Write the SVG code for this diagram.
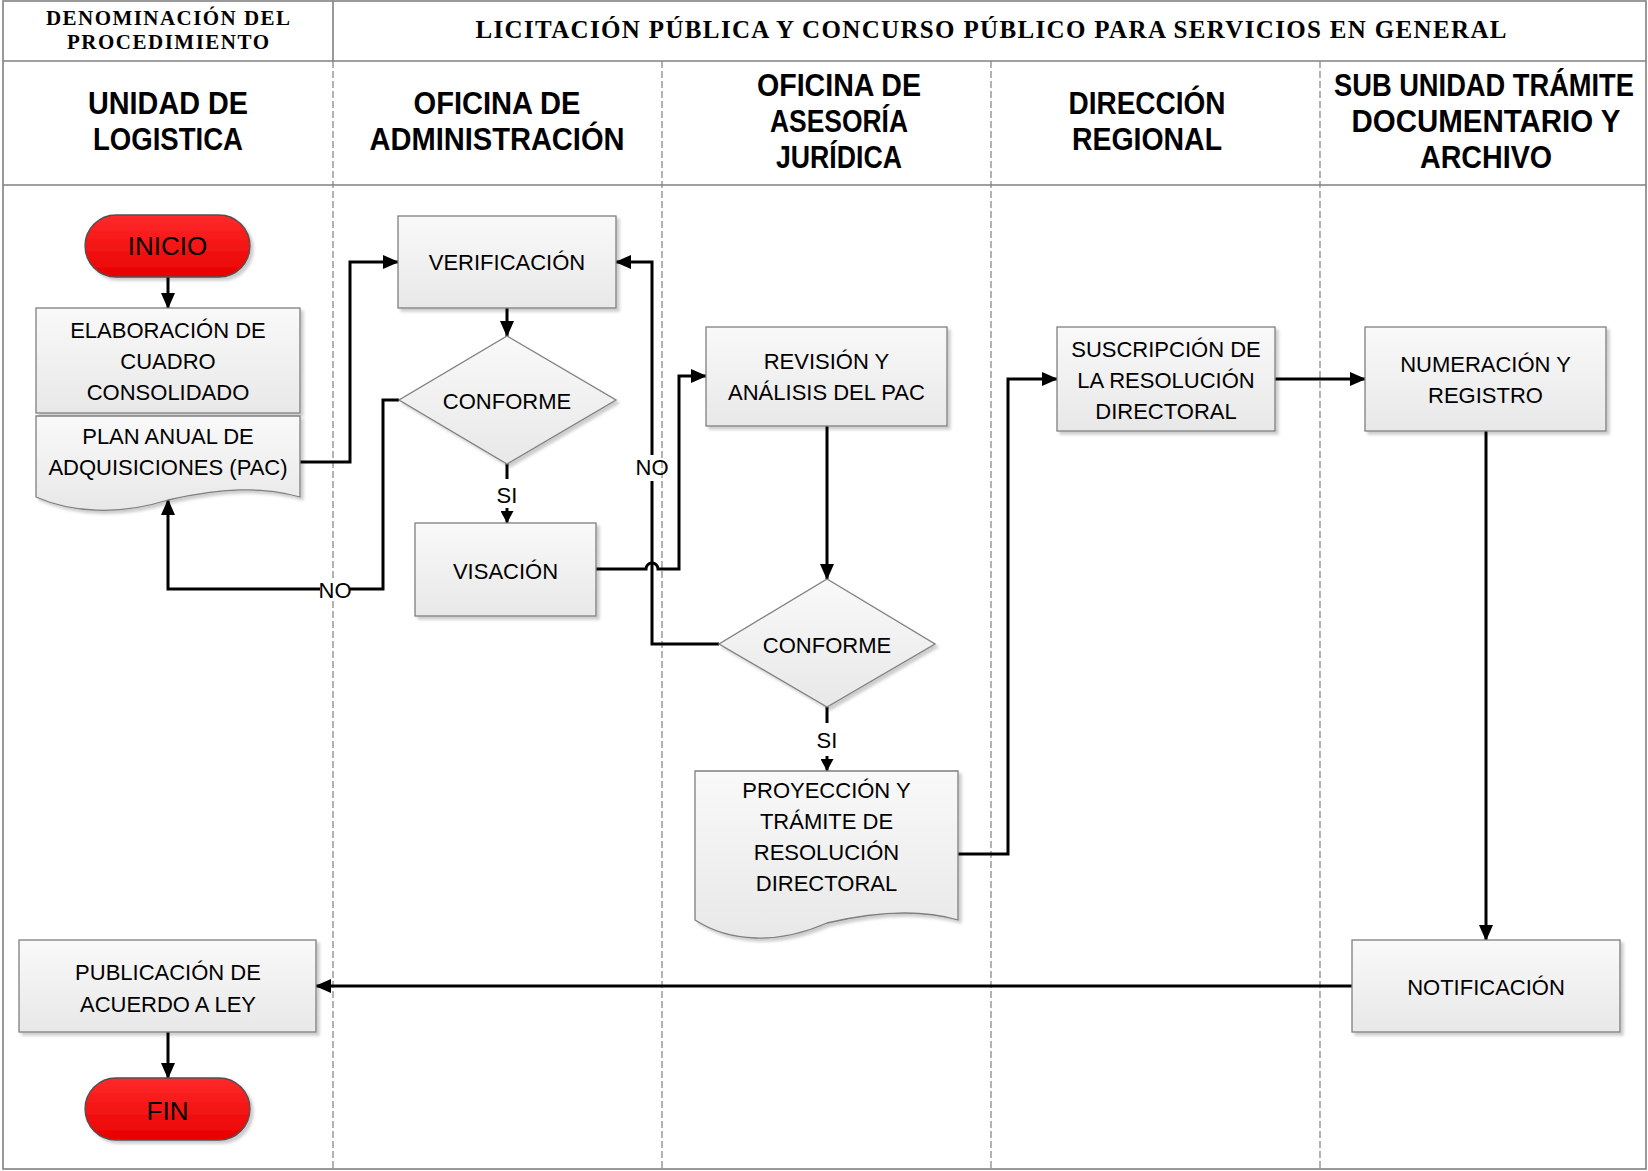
<svg xmlns="http://www.w3.org/2000/svg" width="1648" height="1171" viewBox="0 0 1648 1171">
<style>
.box{fill:url(#gb);stroke:#7f7f7f;stroke-width:1.3;filter:url(#sh)}
.term{fill:url(#gr);stroke:#505050;stroke-width:1.3;filter:url(#sh)}
.t{font-family:"Liberation Sans",Arial,sans-serif;font-size:22px;fill:#000;text-anchor:middle}
.tt{font-size:26px}
.lane{font-family:"Liberation Sans",Arial,sans-serif;font-weight:bold;font-size:31px;text-anchor:middle;fill:#000}
.hd{font-family:"Liberation Serif","Times New Roman",serif;font-weight:bold;text-anchor:middle;fill:#000}
.con{fill:none;stroke:#000;stroke-width:3}
.grid{stroke:#808080;stroke-width:1.6;fill:none}
.dash{stroke:#808080;stroke-width:1.2;stroke-dasharray:7 3;fill:none}
.bg{fill:#fff}
</style>
<defs>
<linearGradient id="gb" x1="0" y1="0" x2="0" y2="1"><stop offset="0" stop-color="#f9f9f9"/><stop offset="1" stop-color="#e8e8e8"/></linearGradient>
<linearGradient id="gr" x1="0" y1="0" x2="0" y2="1"><stop offset="0" stop-color="#ff2a2a"/><stop offset="1" stop-color="#e80000"/></linearGradient>
<filter id="sh" x="-5%" y="-5%" width="115%" height="125%"><feDropShadow dx="3" dy="3" stdDeviation="1.5" flood-color="#000" flood-opacity="0.2"/></filter>
<marker id="ah" viewBox="0 0 16 14" refX="15" refY="7" markerWidth="16" markerHeight="14" markerUnits="userSpaceOnUse" orient="auto"><path d="M0,0 L16,7 L0,14 z" fill="#000"/></marker>
<marker id="as" viewBox="0 0 12 13" refX="12" refY="6.5" markerWidth="12" markerHeight="13" markerUnits="userSpaceOnUse" orient="auto"><path d="M0,0 L12,6.5 L0,13 z" fill="#000"/></marker>
</defs>
<rect x="0" y="0" width="1648" height="1171" fill="#fff"/>
<g id="frame">
<rect class="grid" x="3" y="1" width="1643" height="1168"/>
<line class="grid" x1="3" y1="61" x2="1646" y2="61"/>
<line class="grid" x1="3" y1="185" x2="1646" y2="185"/>
<line class="grid" x1="333" y1="1" x2="333" y2="61"/>
<line class="dash" x1="333" y1="61" x2="333" y2="1169"/>
<line class="dash" x1="662" y1="61" x2="662" y2="1169"/>
<line class="dash" x1="991" y1="61" x2="991" y2="1169"/>
<line class="dash" x1="1320" y1="61" x2="1320" y2="1169"/>
<text class="hd" x="168" y="25" font-size="21" textLength="244">DENOMINACIÓN DEL</text>
<text class="hd" x="168" y="49" font-size="21" textLength="202">PROCEDIMIENTO</text>
<text class="hd" x="991" y="38" font-size="25" textLength="1031">LICITACIÓN PÚBLICA Y CONCURSO PÚBLICO PARA SERVICIOS EN GENERAL</text>
<text class="lane" x="168" y="114" textLength="160" lengthAdjust="spacingAndGlyphs">UNIDAD DE</text>
<text class="lane" x="168" y="150" textLength="150" lengthAdjust="spacingAndGlyphs">LOGISTICA</text>
<text class="lane" x="497" y="114" textLength="167" lengthAdjust="spacingAndGlyphs">OFICINA DE</text>
<text class="lane" x="497" y="150" textLength="255" lengthAdjust="spacingAndGlyphs">ADMINISTRACIÓN</text>
<text class="lane" x="839" y="96" textLength="164" lengthAdjust="spacingAndGlyphs">OFICINA DE</text>
<text class="lane" x="839" y="132" textLength="138" lengthAdjust="spacingAndGlyphs">ASESORÍA</text>
<text class="lane" x="839" y="168" textLength="126" lengthAdjust="spacingAndGlyphs">JURÍDICA</text>
<text class="lane" x="1147" y="114" textLength="157" lengthAdjust="spacingAndGlyphs">DIRECCIÓN</text>
<text class="lane" x="1147" y="150" textLength="150" lengthAdjust="spacingAndGlyphs">REGIONAL</text>
<text class="lane" transform="translate(1484,96) scale(0.88,1)" x="0" y="0">SUB UNIDAD TRÁMITE</text>
<text class="lane" x="1486" y="132" textLength="269" lengthAdjust="spacingAndGlyphs">DOCUMENTARIO Y</text>
<text class="lane" x="1486" y="168" textLength="132" lengthAdjust="spacingAndGlyphs">ARCHIVO</text>
</g>
<g id="connectors">
<path class="con" d="M168,277 V308" marker-end="url(#ah)"/>
<path class="con" d="M300,462 H350 V262 H398" marker-end="url(#ah)"/>
<path class="con" d="M507,308 V336" marker-end="url(#ah)"/>
<path class="con" d="M507,464 V523" marker-end="url(#as)"/>
<path class="con" d="M399,400 H383 V589 H168 V500" marker-end="url(#ah)"/>
<path class="con" d="M596,569 H646 A6,6 0 0 1 658,569 H679 V376 H706" marker-end="url(#ah)"/>
<path class="con" d="M827,426 V579" marker-end="url(#ah)"/>
<path class="con" d="M719,644 H652 V262 H616" marker-end="url(#ah)"/>
<path class="con" d="M827,707 V771" marker-end="url(#as)"/>
<path class="con" d="M958,854 H1008 V379 H1057" marker-end="url(#ah)"/>
<path class="con" d="M1275,379 H1365" marker-end="url(#ah)"/>
<path class="con" d="M1486,431 V940" marker-end="url(#ah)"/>
<path class="con" d="M1352,986 H316" marker-end="url(#ah)"/>
<path class="con" d="M168,1032 V1078" marker-end="url(#ah)"/>
<rect class="bg" x="497" y="479" width="20" height="29"/>
<text class="t" x="507" y="503">SI</text>
<rect class="bg" x="817" y="723" width="20" height="33"/>
<text class="t" x="827" y="748">SI</text>
<rect class="bg" x="320" y="579" width="30" height="22"/>
<text class="t" x="335" y="598">NO</text>
<rect class="bg" x="647" y="455" width="10" height="26"/>
<text class="t" x="652" y="475">NO</text>
</g>
<g id="inicio">
<rect class="term" x="85" y="215" width="165" height="62" rx="31" ry="31"/>
<text class="t tt" x="167.5" y="255">INICIO</text>
</g>
<g id="elaboracion">
<rect class="box" x="36" y="308" width="264" height="105"/>
<text class="t" x="168" y="338">ELABORACIÓN DE</text>
<text class="t" x="168" y="369">CUADRO</text>
<text class="t" x="168" y="400">CONSOLIDADO</text>
</g>
<g id="plan">
<path class="box" d="M36,416 H300 V497 C262,486 220,488 168,500 C118,516 70,512 36,497 Z"/>
<text class="t" x="168" y="444">PLAN ANUAL DE</text>
<text class="t" x="168" y="475">ADQUISICIONES (PAC)</text>
</g>
<g id="verificacion">
<rect class="box" x="398" y="216" width="218" height="92"/>
<text class="t" x="507" y="270">VERIFICACIÓN</text>
</g>
<g id="conforme1">
<path class="box" d="M507,336 L616,400 L507,464 L399,400 Z"/>
<text class="t" x="507" y="409">CONFORME</text>
</g>
<g id="visacion">
<rect class="box" x="415" y="523" width="181" height="93"/>
<text class="t" x="505.5" y="579">VISACIÓN</text>
</g>
<g id="revision">
<rect class="box" x="706" y="327" width="241" height="99"/>
<text class="t" x="826.5" y="369">REVISIÓN Y</text>
<text class="t" x="826.5" y="400">ANÁLISIS DEL PAC</text>
</g>
<g id="conforme2">
<path class="box" d="M827,579 L935,644 L827,707 L719,644 Z"/>
<text class="t" x="827" y="653">CONFORME</text>
</g>
<g id="proyeccion">
<path class="box" d="M695,771 H958 V920 C920,909 878,911 827,923 C777,945 729,942 695,920 Z"/>
<text class="t" x="826.5" y="798">PROYECCIÓN Y</text>
<text class="t" x="826.5" y="829">TRÁMITE DE</text>
<text class="t" x="826.5" y="860">RESOLUCIÓN</text>
<text class="t" x="826.5" y="891">DIRECTORAL</text>
</g>
<g id="suscripcion">
<rect class="box" x="1057" y="327" width="218" height="104"/>
<text class="t" x="1166" y="357">SUSCRIPCIÓN DE</text>
<text class="t" x="1166" y="388">LA RESOLUCIÓN</text>
<text class="t" x="1166" y="419">DIRECTORAL</text>
</g>
<g id="numeracion">
<rect class="box" x="1365" y="327" width="241" height="104"/>
<text class="t" x="1485.5" y="372">NUMERACIÓN Y</text>
<text class="t" x="1485.5" y="403">REGISTRO</text>
</g>
<g id="notificacion">
<rect class="box" x="1352" y="940" width="268" height="92"/>
<text class="t" x="1486" y="995">NOTIFICACIÓN</text>
</g>
<g id="publicacion">
<rect class="box" x="19" y="940" width="297" height="92"/>
<text class="t" x="168" y="980">PUBLICACIÓN DE</text>
<text class="t" x="168" y="1012">ACUERDO A LEY</text>
</g>
<g id="fin">
<rect class="term" x="85" y="1078" width="165" height="62" rx="31" ry="31"/>
<text class="t tt" x="167.5" y="1120">FIN</text>
</g>
</svg>
